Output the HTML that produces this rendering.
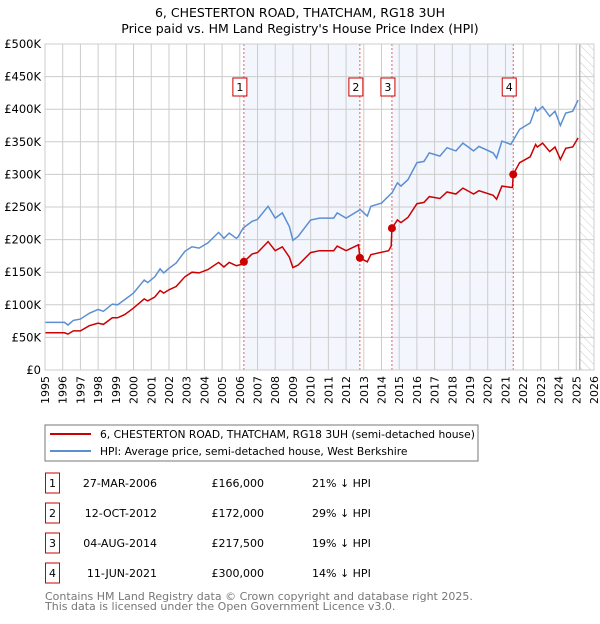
<!DOCTYPE html>
<html><head><meta charset="utf-8"><style>
body{margin:0;background:#fff;font-family:"DejaVu Sans","Liberation Sans",sans-serif;}
svg text{font-family:"DejaVu Sans","Liberation Sans",sans-serif;}
</style></head><body>
<svg id="chart" width="600" height="620" viewBox="0 0 600 620" xmlns="http://www.w3.org/2000/svg">
<defs><pattern id="hatch" width="6" height="6" patternUnits="userSpaceOnUse" patternTransform="rotate(-45)"><line x1="0" y1="0" x2="0" y2="6" stroke="#ccc" stroke-width="1"/></pattern></defs>
<text x="300" y="17" text-anchor="middle" font-size="12.5">6, CHESTERTON ROAD, THATCHAM, RG18 3UH</text>
<text x="300" y="33" text-anchor="middle" font-size="12.5">Price paid vs. HM Land Registry's House Price Index (HPI)</text>
<g id="plot"></g>
<g>
<rect x="45" y="425" width="433" height="36" fill="#fff" stroke="#777"/>
<line x1="50" y1="434" x2="91" y2="434" stroke="#cc0000" stroke-width="2"/>
<text x="100" y="438" font-size="10.7">6, CHESTERTON ROAD, THATCHAM, RG18 3UH (semi-detached house)</text>
<line x1="50" y1="451" x2="91" y2="451" stroke="#5b8fd4" stroke-width="2"/>
<text x="100" y="455" font-size="10.7">HPI: Average price, semi-detached house, West Berkshire</text>
</g>
<g id="table" font-size="11"></g>
<text x="45" y="600" font-size="11" fill="#777">Contains HM Land Registry data © Crown copyright and database right 2025.</text>
<text x="45" y="610" font-size="11" fill="#777">This data is licensed under the Open Government Licence v3.0.</text>
</svg>
<script>
const yTicks=[0,50,100,150,200,250,300,350,400,450,500];
const yTickLabels=["£0","£50K","£100K","£150K","£200K","£250K","£300K","£350K","£400K","£450K","£500K"];
const xYears=[1995,1996,1997,1998,1999,2000,2001,2002,2003,2004,2005,2006,2007,2008,2009,2010,2011,2012,2013,2014,2015,2016,2017,2018,2019,2020,2021,2022,2023,2024,2025,2026];
const hpiT=[1995.0,1996.1,1996.3,1996.6,1997.0,1997.5,1998.0,1998.3,1998.8,1999.1,1999.5,2000.0,2000.6,2000.8,2001.2,2001.5,2001.7,2002.0,2002.4,2002.9,2003.3,2003.7,2004.2,2004.8,2005.1,2005.4,2005.8,2005.9,2006.2,2006.7,2007.0,2007.6,2008.0,2008.4,2008.8,2009.0,2009.3,2010.0,2010.5,2011.3,2011.5,2012.0,2012.8,2013.2,2013.4,2014.0,2014.6,2014.9,2015.1,2015.5,2016.0,2016.4,2016.7,2017.3,2017.7,2018.2,2018.6,2019.2,2019.5,2020.3,2020.5,2020.8,2021.3,2021.8,2022.4,2022.7,2022.8,2023.1,2023.5,2023.8,2024.1,2024.4,2024.8,2025.1];
const hpiV=[73,73,69,76,78,87,93,90,101,100,108,118,138,134,143,155,149,156,164,182,189,187,195,211,202,210,202,204,218,228,231,251,233,241,220,199,205,230,233,233,241,233,246,236,251,256,272,287,282,292,318,320,333,328,341,336,348,336,343,333,325,351,346,369,379,402,397,404,389,397,375,394,397,414];
const ppT=[1995.0,1996.1,1996.3,1996.6,1997.0,1997.5,1998.0,1998.3,1998.8,1999.1,1999.5,2000.0,2000.6,2000.8,2001.2,2001.5,2001.7,2002.0,2002.4,2002.9,2003.3,2003.7,2004.2,2004.8,2005.1,2005.4,2005.8,2006.1,2006.23,2006.7,2007.0,2007.6,2008.0,2008.4,2008.8,2009.0,2009.3,2010.0,2010.5,2011.3,2011.5,2012.0,2012.7,2012.78,2013.2,2013.4,2014.4,2014.55,2014.59,2014.9,2015.1,2015.5,2016.0,2016.4,2016.7,2017.3,2017.7,2018.2,2018.6,2019.2,2019.5,2020.3,2020.5,2020.8,2021.3,2021.4,2021.44,2021.8,2022.4,2022.7,2022.8,2023.1,2023.5,2023.8,2024.1,2024.4,2024.8,2025.1];
const ppV=[57,57,55,60,60,68,72,70,80,80,85,95,109,106,112,122,118,123,128,143,150,149,154,165,158,165,160,162,166,178,180,197,183,189,173,157,161,180,183,183,190,183,192,172,166,177,183,190,217.5,230,226,234,255,257,266,263,273,270,279,270,275,268,262,282,280,280,300,318,327,346,342,348,335,342,323,340,342,356];
const saleT=[2006.23,2012.78,2014.59,2021.44];
const saleV=[166,172,217.5,300];
const saleDates=["27-MAR-2006","12-OCT-2012","04-AUG-2014","11-JUN-2021"];
const salePrices=["£166,000","£172,000","£217,500","£300,000"];
const salePct=["21% ↓ HPI","29% ↓ HPI","19% ↓ HPI","14% ↓ HPI"];
const dataEnd=2025.2;

const X0=45,X1=594,Y0=370,Y1=44;
const xs=t=>X0+(t-1995)/(2026-1995)*(X1-X0);
const ys=v=>Y0-v/500*(Y0-Y1);
const NS="http://www.w3.org/2000/svg";
const plot=document.getElementById('plot');
function mk(tag,attrs,parent){const e=document.createElementNS(NS,tag);for(const k in attrs)e.setAttribute(k,attrs[k]);(parent||plot).appendChild(e);return e;}
for(let i=0;i<saleT.length;i+=2){
  const r=mk('rect',{x:xs(saleT[i]),y:Y1,width:xs(saleT[i+1])-xs(saleT[i]),height:Y0-Y1,fill:'#f3f6fd'});
  
  
}
const h=mk('rect',{x:xs(dataEnd),y:Y1,width:X1-xs(dataEnd),height:Y0-Y1,fill:'url(#hatch)'});


xYears.forEach((yr,i)=>{
  const l=mk('line',{x1:xs(yr),x2:xs(yr),y1:Y1,y2:Y0,stroke:'#ccc','stroke-width':1});
  
  
  const t=mk('text',{x:0,y:0,'font-size':11,'text-anchor':'end',transform:`translate(${xs(yr)+4},${Y0+6}) rotate(-90)`});
  t.textContent=yr;
  
  
});
yTicks.forEach((v,i)=>{
  const l=mk('line',{x1:X0,x2:X1,y1:ys(v),y2:ys(v),stroke:'#ccc','stroke-width':1});
  
  
  const t=mk('text',{x:X0-4,y:ys(v)+4,'font-size':11.5,'text-anchor':'end'});
  t.textContent=yTickLabels[i];
  
  
});
const el=mk('line',{x1:xs(dataEnd),x2:xs(dataEnd),y1:Y1,y2:Y0,stroke:'#999','stroke-width':1});


saleT.forEach((t,i)=>{
  const l=mk('line',{x1:xs(t),x2:xs(t),y1:Y1,y2:Y0,stroke:'#e06060','stroke-width':1,'stroke-dasharray':'2,2'});
  
  
  const b=mk('rect',{x:xs(t)-7-4,y:78,width:14,height:18,fill:'#fff',stroke:'#cc0000'});
  
  
  const tx=mk('text',{x:xs(t)-4,y:91,'font-size':11,'text-anchor':'middle'});
  tx.textContent=String(i+1);
  
  
});
const pts=(T,V)=>T.map((t,i)=>xs(t).toFixed(1)+','+ys(V[i]).toFixed(1)).join(' ');
const hl=mk('polyline',{points:pts(hpiT,hpiV),fill:'none',stroke:'#5b8fd4','stroke-width':1.5});


const pl=mk('polyline',{points:pts(ppT,ppV),fill:'none',stroke:'#cc0000','stroke-width':1.5});


saleT.forEach((t,i)=>{
  const c=mk('circle',{cx:xs(t),cy:ys(saleV[i]),r:4,fill:'#cc0000'});
  
  
});
const ax=mk('rect',{x:X0,y:Y1,width:X1-X0,height:Y0-Y1,fill:'none',stroke:'#ccc'});


const tb=document.getElementById('table');
saleT.forEach((t,i)=>{
  const y=483+i*30;
  const b=mk('rect',{x:45.5,y:y-10,width:14,height:20,fill:'#fff',stroke:'#cc0000'},tb);
  
  
  const n=mk('text',{x:52.5,y:y+4,'text-anchor':'middle'},tb);n.textContent=String(i+1);
  
  
  const d=mk('text',{x:157,y:y+4,'text-anchor':'end'},tb);d.textContent=saleDates[i];
  
  
  const p=mk('text',{x:264,y:y+4,'text-anchor':'end'},tb);p.textContent=salePrices[i];
  
  
  const q=mk('text',{x:312,y:y+4},tb);q.textContent=salePct[i];
  
  
});
</script>
</body></html>
